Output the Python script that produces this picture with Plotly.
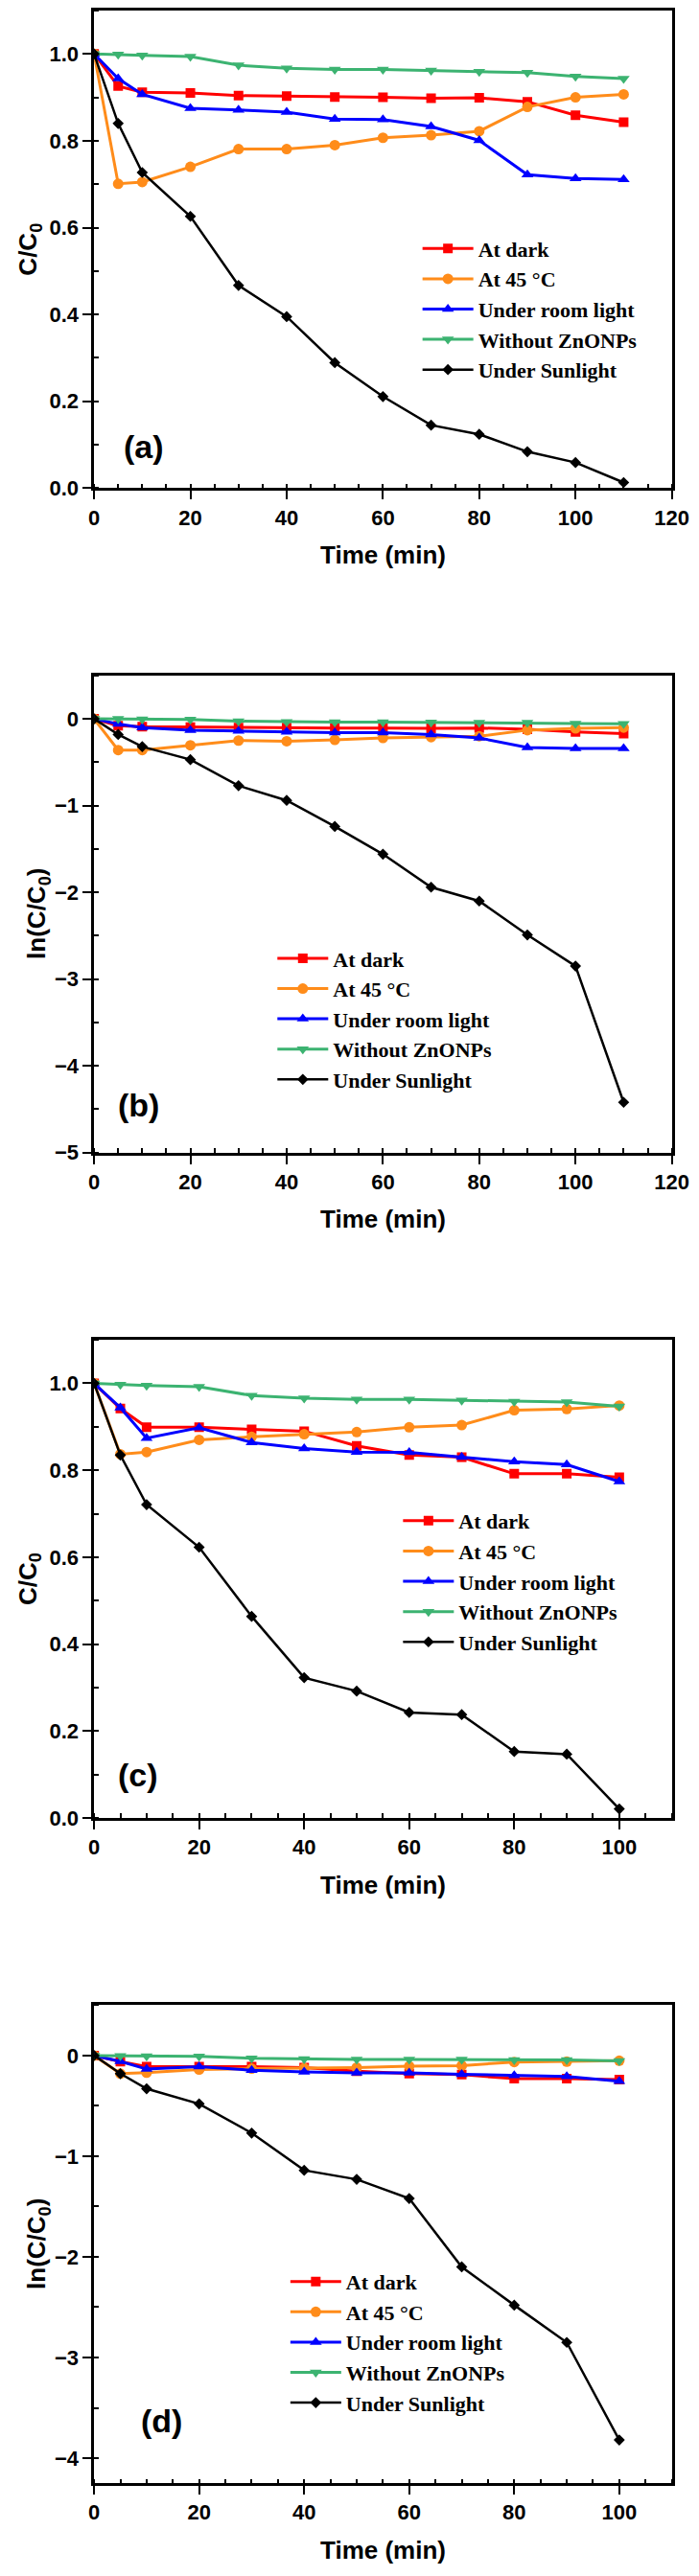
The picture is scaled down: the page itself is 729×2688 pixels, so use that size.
import plotly.graph_objects as go

# time points (min)
time_ab = [0, 5, 10, 20, 30, 40, 50, 60, 70, 80, 90, 100, 110]
time_cd = [0, 5, 10, 20, 30, 40, 50, 60, 70, 80, 90, 100]

series_names = ['At dark', 'At 45 °C', 'Under room light', 'Without ZnONPs', 'Under Sunlight']

# panel (a) C/C0
a_dark = [1.0, 0.926, 0.912, 0.910, 0.904, 0.903, 0.901, 0.900, 0.898, 0.899, 0.890, 0.859, 0.843]
a_45 = [1.0, 0.701, 0.705, 0.740, 0.781, 0.781, 0.790, 0.807, 0.813, 0.822, 0.878, 0.900, 0.907]
a_room = [1.0, 0.943, 0.907, 0.875, 0.871, 0.866, 0.850, 0.849, 0.833, 0.801, 0.722, 0.713, 0.711]
a_nozn = [1.0, 0.999, 0.997, 0.994, 0.974, 0.967, 0.964, 0.964, 0.962, 0.959, 0.957, 0.948, 0.943]
a_sun = [1.0, 0.840, 0.727, 0.626, 0.467, 0.395, 0.289, 0.211, 0.145, 0.124, 0.084, 0.059, 0.013]

# panel (b) ln(C/C0)
b_dark = [0, -0.08, -0.09, -0.095, -0.10, -0.10, -0.105, -0.105, -0.11, -0.105, -0.12, -0.15, -0.17]
b_45 = [0, -0.36, -0.36, -0.305, -0.25, -0.257, -0.243, -0.22, -0.21, -0.20, -0.13, -0.11, -0.10]
b_room = [0, -0.06, -0.10, -0.13, -0.14, -0.15, -0.16, -0.16, -0.18, -0.22, -0.33, -0.34, -0.34]
b_nozn = [0, 0, -0.003, -0.006, -0.027, -0.034, -0.037, -0.037, -0.039, -0.042, -0.044, -0.053, -0.058]
b_sun = [0, -0.18, -0.32, -0.47, -0.77, -0.94, -1.24, -1.56, -1.94, -2.10, -2.49, -2.85, -4.42]

# panel (c) C/C0
c_dark = [1.0, 0.942, 0.899, 0.899, 0.894, 0.890, 0.856, 0.835, 0.830, 0.792, 0.792, 0.784]
c_45 = [1.0, 0.837, 0.842, 0.870, 0.877, 0.883, 0.888, 0.899, 0.904, 0.938, 0.941, 0.949]
c_room = [1.0, 0.944, 0.874, 0.898, 0.864, 0.850, 0.842, 0.841, 0.830, 0.820, 0.813, 0.774]
c_nozn = [1.0, 0.997, 0.995, 0.992, 0.972, 0.966, 0.963, 0.963, 0.961, 0.958, 0.957, 0.947]
c_sun = [1.0, 0.835, 0.721, 0.623, 0.464, 0.323, 0.292, 0.243, 0.238, 0.153, 0.147, 0.021]

# panel (d) ln(C/C0)
d_dark = [0, -0.06, -0.11, -0.11, -0.11, -0.12, -0.155, -0.18, -0.19, -0.23, -0.23, -0.24]
d_45 = [0, -0.18, -0.17, -0.14, -0.13, -0.125, -0.12, -0.106, -0.10, -0.064, -0.061, -0.052]
d_room = [0, -0.058, -0.135, -0.11, -0.146, -0.163, -0.172, -0.173, -0.187, -0.198, -0.207, -0.256]
d_nozn = [0, -0.003, -0.005, -0.008, -0.028, -0.035, -0.038, -0.038, -0.04, -0.043, -0.044, -0.054]
d_sun = [0, -0.18, -0.33, -0.48, -0.77, -1.14, -1.23, -1.42, -2.10, -2.48, -2.85, -3.82]

colors = ['#FF0000', '#FF8C1A', '#0000FF', '#3CB371', '#000000']
symbols = ['square', 'circle', 'triangle-up', 'triangle-down', 'diamond']
sizes = [10, 11, 11, 11, 9]

W, H = 729, 2688
X0, X1 = 87, 710
# panel boxes in pixels (top, bottom)
boxes = [(2, 503), (699.5, 1200), (1396.4, 1898), (2094.3, 2595.8)]

panels = [
    dict(t=time_ab, ys=[a_dark, a_45, a_room, a_nozn, a_sun], xr=[0, 120], yr=[0, 1.1],
         dy=0.2, mdy=0.1, fmt='.1f', ytitle='C/C<sub>0</sub>', label='(a)', lab=(141, 459),
         leg=(441, 251.5), ytx=17),
    dict(t=time_ab, ys=[b_dark, b_45, b_room, b_nozn, b_sun], xr=[0, 120], yr=[-5, 0.5],
         dy=1, mdy=0.5, fmt='d', ytitle='ln(C/C<sub>0</sub>)', label='(b)', lab=(135, 1150),
         leg=(284.5, 996), ytx=27),
    dict(t=time_cd, ys=[c_dark, c_45, c_room, c_nozn, c_sun], xr=[0, 110], yr=[0, 1.1],
         dy=0.2, mdy=0.1, fmt='.1f', ytitle='C/C<sub>0</sub>', label='(c)', lab=(134, 1853),
         leg=(420, 1586), ytx=17),
    dict(t=time_cd, ys=[d_dark, d_45, d_room, d_nozn, d_sun], xr=[0, 110], yr=[-4.25, 0.5],
         dy=1, mdy=0.5, fmt='d', ytitle='ln(C/C<sub>0</sub>)', label='(d)', lab=(160, 2530),
         leg=(298.5, 2384), ytx=27),
]

fig = go.Figure()
annotations = []
sans = 'Liberation Sans, Arial, sans-serif'
serif = 'Liberation Serif, Times New Roman, serif'
LEG_FONT = 22

for k, p in enumerate(panels):
    n = '' if k == 0 else str(k + 1)
    top, bot = boxes[k]
    for i, name in enumerate(series_names):
        fig.add_trace(go.Scatter(
            x=p['t'], y=p['ys'][i], name=name, mode='lines+markers',
            line=dict(color=colors[i], width=3 if i < 4 else 2.5),
            marker=dict(symbol=symbols[i], size=sizes[i], color=colors[i]),
            xaxis='x' + n, yaxis='y' + n, legend='legend' + n,
        ))
    axis_common = dict(showline=True, linecolor='black', linewidth=2.5, mirror=True,
                       ticks='outside', ticklen=9, tickwidth=2, tickcolor='black',
                       showgrid=False, zeroline=False,
                       tickfont=dict(family=sans, size=22, color='black', weight='bold'))
    fig.layout['xaxis' + n] = dict(
        axis_common, domain=[X0 / W, X1 / W], range=p['xr'], dtick=20, tick0=0,
        anchor='y' + n,
        minor=dict(dtick=5, ticks='inside', ticklen=5, tickwidth=2, tickcolor='black'))
    fig.layout['yaxis' + n] = dict(
        axis_common, domain=[1 - bot / H, 1 - top / H], range=p['yr'], dtick=p['dy'],
        tick0=0, tickformat=p['fmt'], anchor='x' + n,
        minor=dict(dtick=p['mdy'], ticks='inside', ticklen=5, tickwidth=2, tickcolor='black'))
    row_h = LEG_FONT * 1.3 + 3
    fig.layout['legend' + n] = dict(
        x=(p['leg'][0] - 5) / W, y=1 - (p['leg'][1] - 5 - row_h / 2) / H,
        xanchor='left', yanchor='top',
        bgcolor='rgba(0,0,0,0)', itemwidth=53, tracegroupgap=0,
        font=dict(family=serif, size=LEG_FONT, color='black', weight='bold'))
    # panel label
    annotations.append(dict(text=p['label'], x=p['lab'][0] / W, y=1 - p['lab'][1] / H,
                            xanchor='center', yanchor='middle',
                            xref='paper', yref='paper', showarrow=False,
                            font=dict(family=sans, size=34, color='black', weight='bold')))
    # x title
    annotations.append(dict(text='Time (min)', x=(X0 + X1) / 2 / W, y=1 - (bot + 70) / H,
                            xanchor='center', yanchor='middle',
                            xref='paper', yref='paper', showarrow=False,
                            font=dict(family=sans, size=26, color='black', weight='bold')))
    # y title
    annotations.append(dict(text=p['ytitle'], x=p['ytx'] / W, y=1 - (top + bot) / 2 / H,
                            xanchor='center', yanchor='middle',
                            xref='paper', yref='paper', showarrow=False, textangle=-90,
                            font=dict(family=sans, size=26, color='black', weight='bold')))

fig.update_layout(
    width=W, height=H, margin=dict(l=0, r=0, t=0, b=0),
    paper_bgcolor='white', plot_bgcolor='white',
    annotations=annotations,
)

fig.write_html("out.html")
